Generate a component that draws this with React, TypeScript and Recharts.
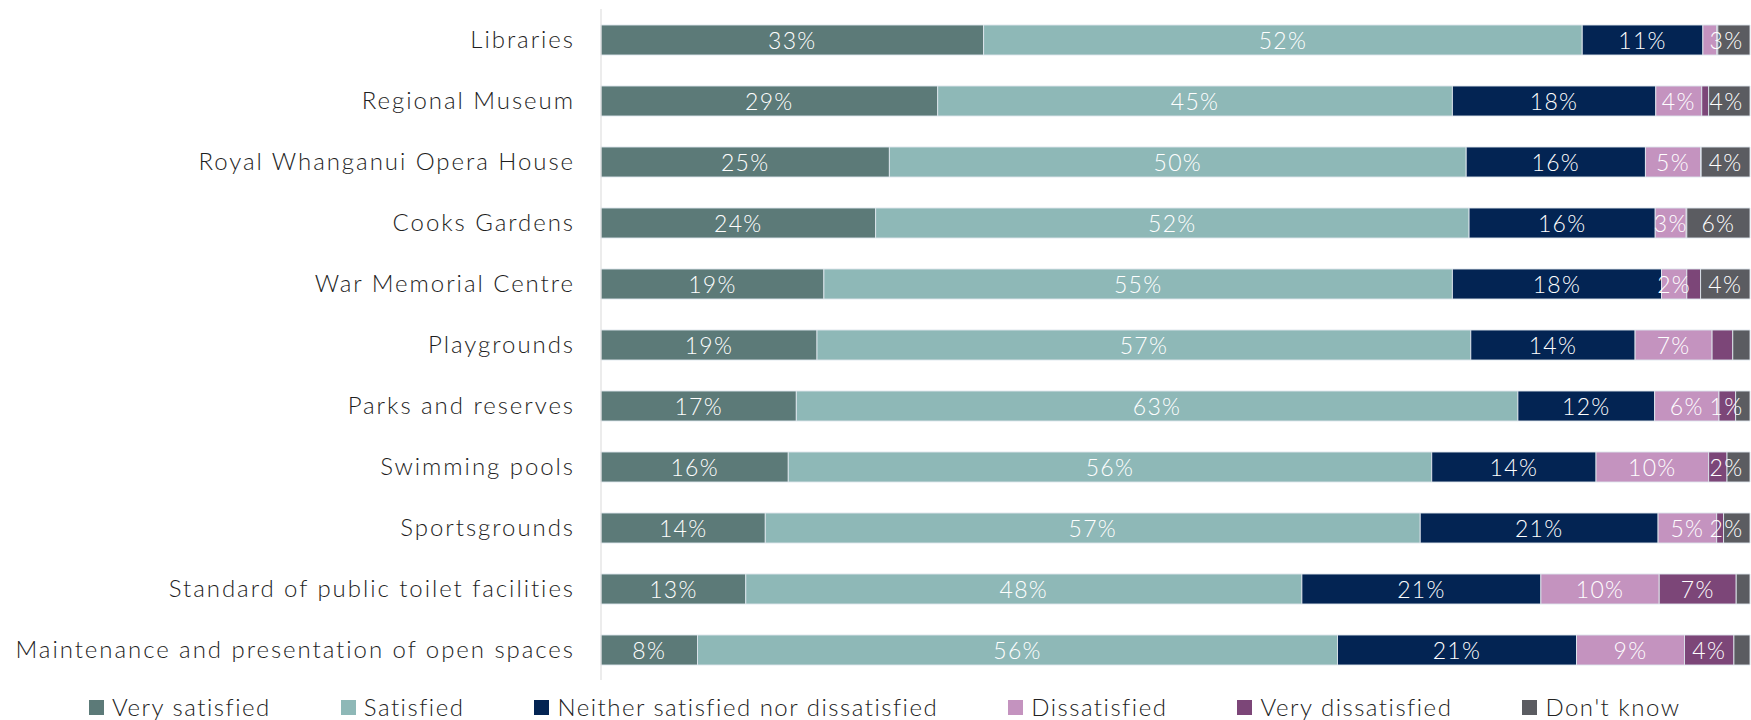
import React from 'react';
import { Bar, BarChart, LabelList, Legend, XAxis, YAxis } from 'recharts';

const categories = [
  'Libraries',
  'Regional Museum',
  'Royal Whanganui Opera House',
  'Cooks Gardens',
  'War Memorial Centre',
  'Playgrounds',
  'Parks and reserves',
  'Swimming pools',
  'Sportsgrounds',
  'Standard of public toilet facilities',
  'Maintenance and presentation of open spaces',
];

// shares in %
const verySatisfied = [33.3, 29.3, 25.1, 23.9, 19.4, 18.8, 17.0, 16.3, 14.3, 12.6, 8.4];
const satisfied = [52.1, 44.8, 50.2, 51.65, 54.7, 56.9, 62.8, 56.0, 57.0, 48.4, 55.7];
const neither = [10.5, 17.7, 15.6, 16.2, 18.2, 14.3, 11.9, 14.3, 20.7, 20.8, 20.8];
const dissatisfied = [1.2, 4.0, 4.8, 2.7, 2.2, 6.7, 5.6, 9.8, 5.1, 10.3, 9.4];
const veryDissatisfied = [0.1, 0.6, 0.05, 0.05, 1.2, 1.8, 1.45, 1.6, 0.6, 6.7, 4.3];
const dontKnow = [2.8, 3.6, 4.25, 5.5, 4.3, 1.5, 1.25, 2.0, 2.3, 1.2, 1.4];

// rows whose label is left off in the original
const hiddenDissatisfied = [0];
const hiddenVeryDissatisfied = [0, 1, 2, 3, 4, 5, 7, 8];
const hiddenDontKnow = [5, 6, 9, 10];

const series = [
  { key: 'vs', name: 'Very satisfied', values: verySatisfied, color: '#5c7a78', hidden: [] as number[] },
  { key: 's', name: 'Satisfied', values: satisfied, color: '#8eb8b7', hidden: [] as number[] },
  { key: 'n', name: 'Neither satisfied nor dissatisfied', values: neither, color: '#032453', hidden: [] as number[] },
  { key: 'd', name: 'Dissatisfied', values: dissatisfied, color: '#c493bf', hidden: hiddenDissatisfied },
  { key: 'vd', name: 'Very dissatisfied', values: veryDissatisfied, color: '#7c4678', hidden: hiddenVeryDissatisfied },
  { key: 'dk', name: "Don't know", values: dontKnow, color: '#5b5c61', hidden: hiddenDontKnow },
];

const data = categories.map((name, i) => {
  const row: Record<string, string | number> = { name };
  series.forEach((s) => {
    row[s.key] = s.values[i];
  });
  return row;
});

const FONT = 'Lato, sans-serif';
const WIDTH = 1751;
const RIGHT_EDGE = WIDTH - 6; // labels are kept inside the plot

const LegendRow = () => (
  <div
    style={{
      display: 'flex',
      height: 40,
      paddingTop: 14,
      paddingLeft: 89,
      boxSizing: 'border-box',
      fontFamily: FONT,
      fontWeight: 300,
      fontSize: 24,
      letterSpacing: 1.5,
      color: '#222',
      lineHeight: '26px',
      whiteSpace: 'nowrap',
    }}
  >
    {series.map((s) => (
      <div key={s.key} style={{ display: 'flex', alignItems: 'center', marginRight: 70, flexShrink: 0 }}>
        <span style={{ width: 15, height: 15, background: s.color, marginRight: 8, display: 'inline-block' }} />
        <span>{s.name}</span>
      </div>
    ))}
  </div>
);

const App = () => {
  return (
    <div style={{ position: 'absolute', left: 0, top: 0 }}>
      <BarChart
        width={WIDTH}
        height={720}
        data={data}
        layout='vertical'
        margin={{ top: 9, right: 1, bottom: 0, left: 0 }}
        barSize={30}
      >
        <XAxis type='number' domain={[0, 100]} hide />
        <YAxis
          type='category'
          dataKey='name'
          width={601}
          axisLine={{ stroke: '#d9d9d9' }}
          tickLine={false}
          tickSize={6}
          tickMargin={20}
          tick={{ fill: '#1e1e1e', fontSize: 24, fontFamily: FONT, fontWeight: 300, letterSpacing: 1.95 }}
          interval={0}
        />
        {series.map((s) => (
          <Bar
            key={s.key}
            dataKey={s.key}
            name={s.name}
            stackId='a'
            fill={s.color}
            stroke='rgba(222,230,236,0.9)'
            strokeWidth={1}
            isAnimationActive={false}
          >
            <LabelList
              dataKey={s.key}
              content={(p: any) => {
                const i = p.index as number;
                const v = s.values[i];
                if (!v || s.hidden.includes(i)) return null;
                const text = `${Math.round(v)}%`;
                const half = (text.length * 18.5) / 2;
                const cx = Math.min(p.x + p.width / 2, RIGHT_EDGE - half);
                return (
                  <text
                    x={cx}
                    y={p.y + p.height / 2}
                    textAnchor='middle'
                    dominantBaseline='central'
                    fill='#fff'
                    fontSize={23}
                    fontFamily={FONT}
                    fontWeight={300}
                    letterSpacing={1.3}
                  >
                    {text}
                  </text>
                );
              }}
            />
          </Bar>
        ))}
        <Legend
          verticalAlign='bottom'
          content={() => <LegendRow />}
          wrapperStyle={{ left: 0, width: WIDTH }}
        />
      </BarChart>
    </div>
  );
};

export default App;
